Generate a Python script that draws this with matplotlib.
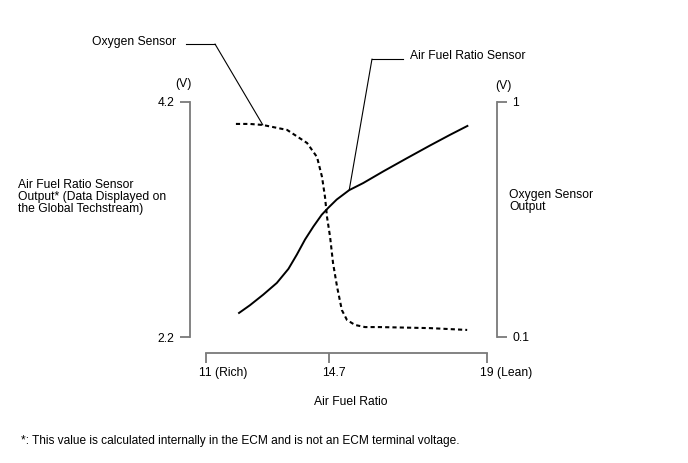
import numpy as np
import matplotlib
matplotlib.use('Agg')
import matplotlib.pyplot as plt
from matplotlib.lines import Line2D
from matplotlib.transforms import ScaledTranslation

# Air fuel ratio sensor output (left axis, V)
afr_x = [11.97, 12.32, 12.72, 13.13, 13.48, 13.73, 13.98, 14.23, 14.48, 14.68,
         14.91, 15.25, 15.63, 16.18, 16.81, 17.45, 17.99, 18.49]
afr_v = [2.40, 2.47, 2.56, 2.66, 2.78, 2.90, 3.03, 3.14, 3.24, 3.30,
         3.37, 3.45, 3.51, 3.61, 3.72, 3.83, 3.92, 4.00]

# Oxygen sensor output (right axis, V)
o2_x = [11.90, 12.32, 12.71, 13.44, 14.04, 14.34, 14.49, 14.58, 14.64, 14.73,
        14.81, 14.92, 15.05, 15.19, 15.41, 15.68, 16.09, 17.45, 18.46]
o2_v = [0.916, 0.916, 0.912, 0.893, 0.843, 0.789, 0.713, 0.636, 0.560, 0.483,
        0.383, 0.292, 0.203, 0.165, 0.146, 0.138, 0.138, 0.134, 0.127]

x_ticks = [11, 14.7, 19]
x_ticklabels = ['11 (Rich)', '14.7', '19 (Lean)']
left_ticks = [2.2, 4.2]
right_ticks = [0.1, 1]

W, H = 688, 463
GRAY = '#7a7a7a'
FONT = 'Liberation Sans'
FS = 8.7

plt.rcParams['font.family'] = [FONT, 'DejaVu Sans']
plt.rcParams['font.size'] = FS

fig = plt.figure(figsize=(W / 100, H / 100), dpi=100)

# axes box in image pixels: x 206..487, y 102..337
ax = fig.add_axes([206 / W, 1 - 337 / H, 281 / W, 235 / H])
ax.patch.set_visible(False)

# schematic x scale: 14.7 is not at its linear spot
knots_afr = [11, 14.7, 19]
knots_pos = [0.0, 123 / 281, 1.0]
fwd = lambda x: np.interp(x, knots_afr, knots_pos)
inv = lambda p: np.interp(p, knots_pos, knots_afr)
ax.set_xscale('function', functions=(fwd, inv))
ax.set_xlim(11, 19)
ax.set_ylim(2.2, 4.2)

ax2 = ax.twinx()
ax2.set_ylim(0.1, 1)

ax.plot(afr_x, afr_v, color='black', lw=1.4, solid_capstyle='butt', solid_joinstyle='round')
ax2.plot(o2_x, o2_v, color='black', lw=1.5, linestyle=(0, (2.0, 1.5)))

for s in ['top', 'right']:
    ax.spines[s].set_visible(False)
for s in ['top', 'left', 'bottom']:
    ax2.spines[s].set_visible(False)

ax.spines['left'].set_position(('outward', 11.5))
ax.spines['bottom'].set_position(('outward', 11.5))
ax2.spines['right'].set_position(('outward', 7.2))
for sp in [ax.spines['left'], ax.spines['bottom'], ax2.spines['right']]:
    sp.set_color(GRAY)
    sp.set_linewidth(1.3)

ax.set_xticks(x_ticks, labels=x_ticklabels)
ax.set_yticks(left_ticks, labels=['2.2', '4.2'])
ax2.set_yticks(right_ticks, labels=['0.1', '1'])
ax.xaxis.set_minor_locator(plt.NullLocator())
ax.tick_params(axis='x', direction='out', length=7.2, width=1.3, color=GRAY, pad=3, labelsize=FS)
ax.tick_params(axis='y', direction='out', length=7.2, width=1.3, color=GRAY, pad=4, labelsize=FS)
ax2.tick_params(axis='y', direction='out', length=7.2, width=1.3, color=GRAY, pad=4, labelsize=FS)

off = ScaledTranslation(-7 / 100, 0, fig.dpi_scale_trans)
for lab in ax.get_xticklabels():
    lab.set_horizontalalignment('left')
    lab.set_transform(lab.get_transform() + off)

ax.set_xlabel('Air Fuel Ratio', fontsize=FS)
ax.xaxis.set_label_coords((351 - 206) / 281, -(396 - 337) / 235)


def fx(px):
    return px / W


def fy(py):
    return 1 - py / H


fig.text(fx(183), fy(84), '(V)', ha='center', va='center')
fig.text(fx(503), fy(86), '(V)', ha='center', va='center')
fig.text(fx(18), fy(197), 'Air Fuel Ratio Sensor\nOutput* (Data Displayed on\nthe Global Techstream)',
         ha='left', va='center', linespacing=0.95)
fig.text(fx(509), fy(201), 'Oxygen Sensor\nOutput', ha='left', va='center', linespacing=0.95)
fig.text(fx(21), fy(441), '*: This value is calculated internally in the ECM and is not an ECM terminal voltage.',
         ha='left', va='center', fontsize=8.6)

# leader lines
fig.text(fx(92), fy(42), 'Oxygen Sensor', ha='left', va='center')
fig.add_artist(Line2D([fx(186), fx(215)], [fy(44), fy(44)], color='black', lw=0.8))
ax2.annotate('', xy=(o2_x[2], o2_v[2]), xycoords='data',
             xytext=(215, H - 44), textcoords='figure pixels',
             arrowprops=dict(arrowstyle='-', color='black', lw=0.8, shrinkA=0, shrinkB=0))

fig.text(fx(410), fy(56), 'Air Fuel Ratio Sensor', ha='left', va='center')
fig.add_artist(Line2D([fx(372), fx(403)], [fy(59), fy(59)], color='black', lw=0.8))
ax.annotate('', xy=(afr_x[11], afr_v[11]), xycoords='data',
            xytext=(372, H - 59), textcoords='figure pixels',
            arrowprops=dict(arrowstyle='-', color='black', lw=0.8, shrinkA=0, shrinkB=0))

plt.savefig('out.png', dpi=100)
